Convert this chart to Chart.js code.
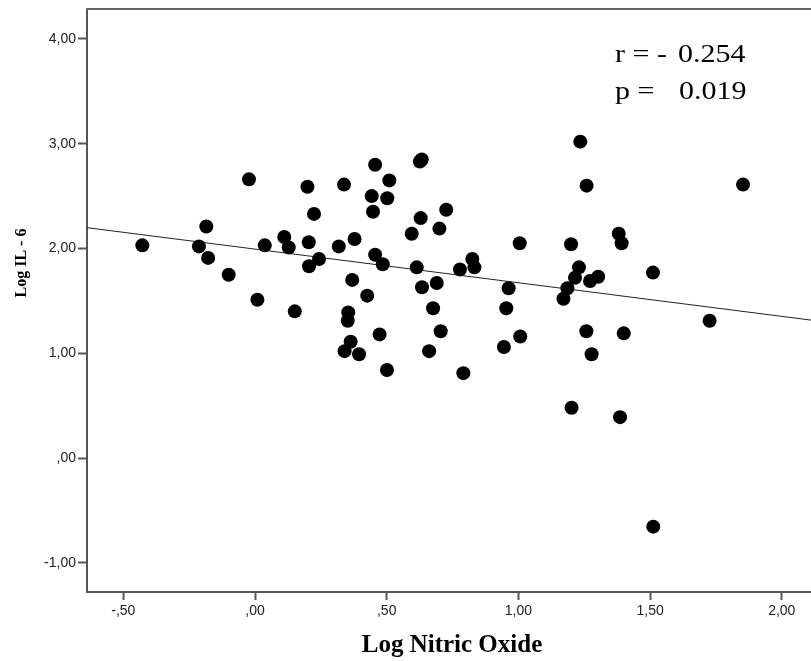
<!DOCTYPE html>
<html>
<head>
<meta charset="utf-8">
<script src="https://cdn.jsdelivr.net/npm/chart.js@4/dist/chart.umd.min.js"></script>
<style>
  html, body { margin: 0; padding: 0; background: #ffffff; overflow: hidden; }
  #c { display: block; width: 811px; height: 661px; }
</style>
</head>
<body>
<canvas id="c" width="811" height="661"></canvas>
<script>
// ---- data ----
const logNitricOxide = [
  -0.428, -0.213, -0.185, -0.178, -0.100, -0.023, 0.009, 0.037, 0.111, 0.128,
  0.151, 0.199, 0.204, 0.205, 0.224, 0.243, 0.318, 0.338, 0.340, 0.352,
  0.354, 0.363, 0.369, 0.378, 0.395, 0.426, 0.443, 0.448, 0.456, 0.456,
  0.473, 0.485, 0.501, 0.502, 0.510, 0.595, 0.614, 0.626, 0.633, 0.629,
  0.634, 0.661, 0.676, 0.690, 0.700, 0.705, 0.726, 0.778, 0.791, 0.825,
  0.833, 0.945, 0.954, 0.963, 1.005, 1.007, 1.171, 1.186, 1.200, 1.202,
  1.215, 1.230, 1.235, 1.258, 1.259, 1.272, 1.278, 1.303, 1.381, 1.386,
  1.392, 1.400, 1.511, 1.512, 1.726, 1.853
];
const logIL6 = [
  2.03, 2.02, 2.21, 1.91, 1.75, 2.66, 1.51, 2.03, 2.11, 2.01,
  1.40, 2.59, 2.06, 1.83, 2.33, 1.90, 2.02, 2.61, 1.02, 1.31,
  1.39, 1.11, 1.70, 2.09, 0.99, 1.55, 2.50, 2.35, 2.80, 1.94,
  1.18, 1.85, 0.84, 2.48, 2.65, 2.14, 1.82, 2.83, 2.85, 2.29,
  1.63, 1.02, 1.43, 1.67, 2.19, 1.21, 2.37, 1.80, 0.81, 1.90,
  1.82, 1.06, 1.43, 1.62, 2.05, 1.16, 1.52, 1.62, 2.04, 0.48,
  1.72, 1.82, 3.02, 1.21, 2.60, 1.69, 0.99, 1.73, 2.14, 0.39,
  2.05, 1.19, 1.77, -0.655, 1.31, 2.61
];
// fit line
const fitIntercept = 1.994;
const fitSlope = -0.321;

const xTickValues = [-0.5, 0, 0.5, 1.0, 1.5, 2.0];
const xTickLabels = ['-,50', ',00', ',50', '1,00', '1,50', '2,00'];
const yTickValues = [-1, 0, 1, 2, 3, 4];
const yTickLabels = ['-1,00', ',00', '1,00', '2,00', '3,00', '4,00'];
const xMin = -0.638, xMax = 2.111;
const yMin = -1.279, yMax = 4.286;

const xTitle = 'Log Nitric Oxide';
const yTitle = 'Log IL - 6';
const statLines = [['r = -', '0.254'], ['p =', '0.019']];

// ---- build ----
const points = logNitricOxide.map((x, i) => ({ x: x, y: logIL6[i] }));
const fitLine = [xMin, xMax].map(x => ({ x: x, y: fitIntercept + fitSlope * x }));

const frameColor = '#555555';

const decorPlugin = {
  id: 'decor',
  afterDraw(chart) {
    const ctx = chart.ctx;
    const a = chart.chartArea;
    ctx.save();
    // top frame line
    ctx.strokeStyle = '#666666';
    ctx.lineWidth = 2;
    ctx.beginPath();
    ctx.moveTo(a.left - 1, a.top);
    ctx.lineTo(a.right, a.top);
    ctx.stroke();

    ctx.fillStyle = '#000000';
    // x title
    ctx.font = 'bold 25px "Liberation Serif", "Times New Roman", serif';
    ctx.textAlign = 'center';
    ctx.textBaseline = 'alphabetic';
    ctx.fillText(xTitle, 452, 652);

    // y title (rotated)
    ctx.save();
    ctx.translate(26, 263);
    ctx.rotate(-Math.PI / 2);
    ctx.font = 'bold 16px "Liberation Serif", "Times New Roman", serif';
    ctx.textAlign = 'center';
    ctx.textBaseline = 'alphabetic';
    ctx.scale(1, 1.1);
    ctx.fillText(yTitle, 0, 0);
    ctx.restore();

    // statistics annotation
    ctx.font = '25px "Liberation Serif", "Times New Roman", serif';
    ctx.textAlign = 'left';
    const rows = [[615, 678, 62], [615, 679, 99]];
    statLines.forEach((ln, i) => {
      const r = rows[i];
      ctx.save(); ctx.translate(r[0], r[2]); ctx.scale(1.2, 1); ctx.fillText(ln[0], 0, 0); ctx.restore();
      ctx.save(); ctx.translate(r[1], r[2]); ctx.scale(1.2, 1); ctx.fillText(ln[1], 0, 0); ctx.restore();
    });
    ctx.restore();
  }
};

new Chart(document.getElementById('c'), {
  type: 'scatter',
  data: {
    datasets: [
      {
        type: 'scatter',
        label: 'cases',
        data: points,
        pointRadius: 7,
        pointHoverRadius: 7,
        backgroundColor: '#000000',
        borderWidth: 0,
        order: 0
      },
      {
        type: 'line',
        label: 'fit',
        data: fitLine,
        borderColor: '#222222',
        borderWidth: 1,
        pointRadius: 0,
        fill: false,
        tension: 0,
        order: 1
      }
    ]
  },
  options: {
    responsive: false,
    maintainAspectRatio: false,
    devicePixelRatio: 1,
    animation: false,
    events: [],
    layout: { autoPadding: false, padding: { top: 9, right: 0, left: 0, bottom: 0 } },
    plugins: { legend: { display: false }, tooltip: { enabled: false }, title: { display: false } },
    scales: {
      x: {
        type: 'linear',
        min: xMin, max: xMax,
        afterBuildTicks: s => { s.ticks = xTickValues.map(v => ({ value: v })); },
        afterFit: s => { s.height = 69; s.paddingLeft = 0; s.paddingRight = 0; },
        grid: { drawOnChartArea: false, drawTicks: true, tickLength: 8, tickWidth: 2, tickColor: frameColor },
        border: { display: true, color: frameColor, width: 2 },
        ticks: {
          padding: 3,
          color: '#222222',
          font: { family: '"Liberation Sans", Arial, sans-serif', size: 14 },
          maxRotation: 0,
          callback: v => { const i = xTickValues.findIndex(t => Math.abs(t - v) < 1e-9); return i >= 0 ? xTickLabels[i] : ''; }
        }
      },
      y: {
        type: 'linear',
        min: yMin, max: yMax,
        afterBuildTicks: s => { s.ticks = yTickValues.map(v => ({ value: v })); },
        afterFit: s => { s.width = 87; s.paddingTop = 0; s.paddingBottom = 0; },
        grid: { drawOnChartArea: false, drawTicks: true, tickLength: 9, tickWidth: 2, tickColor: frameColor },
        border: { display: true, color: frameColor, width: 2 },
        ticks: {
          padding: 2,
          color: '#222222',
          font: { family: '"Liberation Sans", Arial, sans-serif', size: 14 },
          callback: v => { const i = yTickValues.findIndex(t => Math.abs(t - v) < 1e-9); return i >= 0 ? yTickLabels[i] : ''; }
        }
      }
    }
  },
  plugins: [decorPlugin]
});
</script>
</body>
</html>
